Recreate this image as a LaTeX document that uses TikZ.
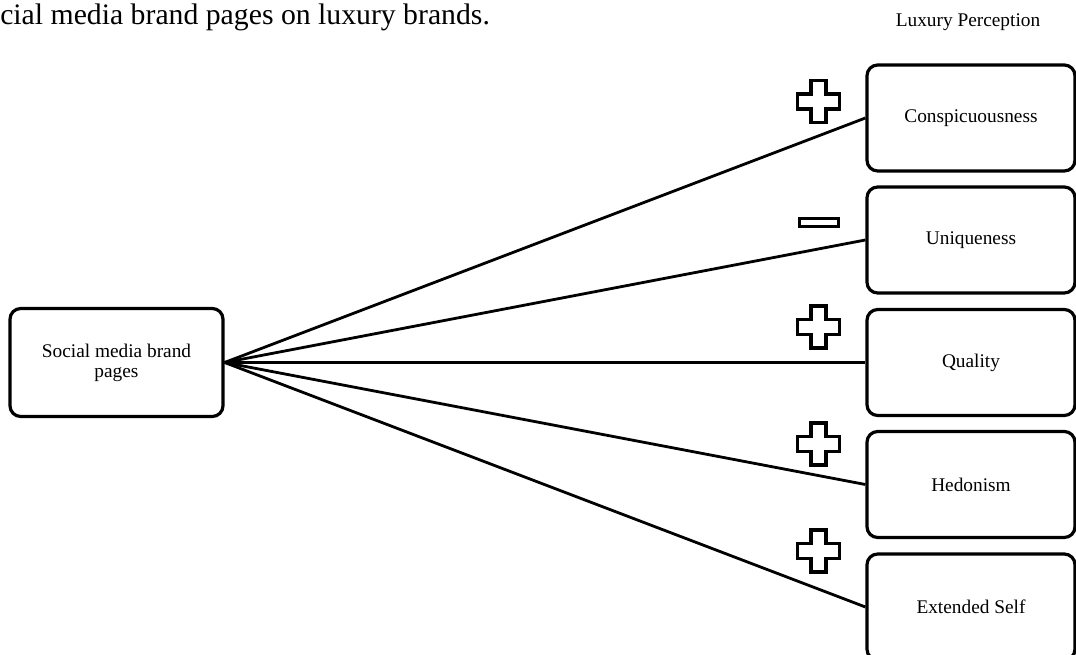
\documentclass[tikz,border=0pt]{standalone}
\usepackage{fontspec}
\setmainfont{Liberation Serif}
\begin{document}
\begin{tikzpicture}[x=0.75pt,y=-0.75pt,
  box/.style={draw=black,line width=2.4pt,rounded corners=8pt,fill=white,
    minimum width=208*0.75pt,minimum height=106*0.75pt,inner sep=0pt,
    font=\fontsize{14.5pt}{15pt}\selectfont,align=center},
  conn/.style={line width=2.1pt,black},
  sign/.style={draw=black,line width=2.5pt,fill=white},
  plussign/.pic={\path[sign] (-7.5,-21) -- (7.5,-21) -- (7.5,-7.5) -- (21,-7.5) -- (21,7.5) -- (7.5,7.5) -- (7.5,21) -- (-7.5,21) -- (-7.5,7.5) -- (-21,7.5) -- (-21,-7.5) -- (-7.5,-7.5) -- cycle;},
  minussign/.pic={\path[sign] (-19.5,-4) rectangle (19.5,4);}
]
\useasboundingbox (0,0) rectangle (1076,655);
\node[anchor=base west,inner sep=0pt,font=\fontsize{22.3pt}{26pt}\selectfont] (title) at (0,25) {cial media brand pages on luxury brands.};
\node[font=\fontsize{14.5pt}{18pt}\selectfont] (lux) at (968,22) {Luxury Perception};
\node[box,minimum width=213*0.75pt,minimum height=108*0.75pt] (smb) at (116.5,362.5) {Social media brand\\pages};
\node[box] (c1) at (971,118) {Conspicuousness};
\node[box] (c2) at (971,240) {Uniqueness};
\node[box] (c3) at (971,362.5) {Quality};
\node[box] (c4) at (971,484.5) {Hedonism};
\node[box] (c5) at (971,607) {Extended Self};
\foreach \n in {c1,c2,c3,c4,c5} \draw[conn] (smb.east) -- (\n.west);
\pic at (818.5,101.5) {plussign};
\pic at (819,222.5) {minussign};
\pic at (818.5,327) {plussign};
\pic at (818.5,444) {plussign};
\pic at (818.5,551) {plussign};
\end{tikzpicture}
\end{document}
